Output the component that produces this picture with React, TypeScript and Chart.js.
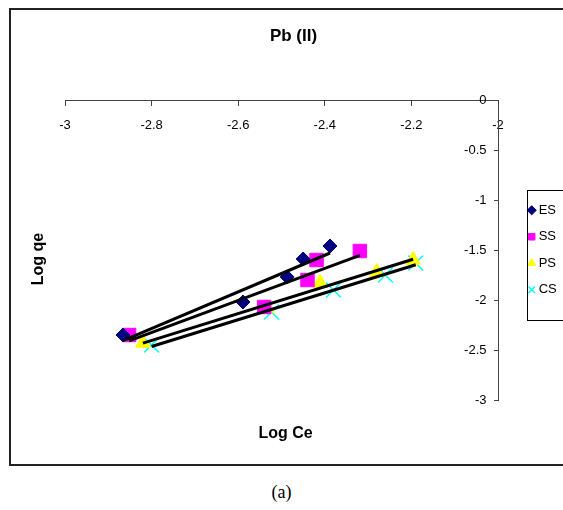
import React, { useEffect, useRef } from "react";
import { Chart, registerables } from "chart.js";

Chart.register(...registerables);

const FONT = '"Liberation Sans", Arial, Helvetica, sans-serif';

const chartTitle = "Pb (II)";
const xAxisTitle = "Log Ce";
const yAxisTitle = "Log qe";
const caption = "(a)";

const seriesNames = ["ES", "SS", "PS", "CS"];

const esLogCe = [-2.866, -2.589, -2.487, -2.45, -2.388];
const esLogQe = [-2.35, -2.02, -1.77, -1.59, -1.46];
const ssLogCe = [-2.852, -2.54, -2.44, -2.419, -2.319];
const ssLogQe = [-2.35, -2.07, -1.8, -1.6, -1.51];
const psLogCe = [-2.82, -2.534, -2.411, -2.28, -2.196];
const psLogQe = [-2.43, -2.08, -1.83, -1.72, -1.6];
const csLogCe = [-2.8, -2.523, -2.38, -2.26, -2.19];
const csLogQe = [-2.45, -2.12, -1.9, -1.75, -1.63];

const xTickValues = [-3, -2.8, -2.6, -2.4, -2.2, -2];
const yTickValues = [0, -0.5, -1, -1.5, -2, -2.5, -3];

// linear least-squares trendline over the data range (as Excel draws it)
function trendline(xs: number[], ys: number[]) {
  const n = xs.length;
  const mx = xs.reduce((a, b) => a + b, 0) / n;
  const my = ys.reduce((a, b) => a + b, 0) / n;
  let sxy = 0;
  let sxx = 0;
  for (let i = 0; i < n; i++) {
    sxy += (xs[i] - mx) * (ys[i] - my);
    sxx += (xs[i] - mx) * (xs[i] - mx);
  }
  const b = sxy / sxx;
  const a = my - b * mx;
  const x0 = Math.min(...xs);
  const x1 = Math.max(...xs);
  return [
    { x: x0, y: a + b * x0 },
    { x: x1, y: a + b * x1 },
  ];
}

const decorPlugin = {
  id: "decor",
  afterDraw(chart: any) {
    const { ctx, chartArea: a } = chart;
    ctx.save();
    // axis titles
    ctx.font = `bold 16px ${FONT}`;
    ctx.fillStyle = "#000";
    ctx.textAlign = "center";
    ctx.textBaseline = "middle";
    ctx.fillText(xAxisTitle, (a.left + a.right) / 2 + 4, a.bottom + 34);
    ctx.save();
    ctx.translate(a.left - 26, (a.top + a.bottom) / 2 + 9);
    ctx.rotate(-Math.PI / 2);
    ctx.fillText(yAxisTitle, 0, 0);
    ctx.restore();
    // legend frame
    const hb = chart.legend && chart.legend.legendHitBoxes;
    if (hb && hb.length) {
      const first = hb[0];
      const last = hb[hb.length - 1];
      const left = Math.round(first.left + 0.5 - 4.7) + 0.5;
      const top = Math.round(first.top + 6.5 - 20.7) + 0.5;
      const bottom = Math.round(last.top + 6.5 + 30.7) + 0.5;
      ctx.strokeStyle = "#000";
      ctx.lineWidth = 1;
      ctx.strokeRect(left, top, chart.width + 10 - left, bottom - top);
    }
    ctx.restore();
  },
};

export default function App() {
  const ref = useRef<HTMLCanvasElement>(null);

  useEffect(() => {
    const canvas = ref.current;
    if (!canvas) return;
    const xs = [esLogCe, ssLogCe, psLogCe, csLogCe];
    const ys = [esLogQe, ssLogQe, psLogQe, csLogQe];
    const colors = ["#000080", "#FF00FF", "#FFFF00", "#00FFFF"];
    const markers = ["rectRot", "rect", "triangle", "crossRot"];
    const radii = [7, 9.5, 8.5, 10.5];

    const pointSets = seriesNames.map((name, i) => ({
      label: name,
      data: xs[i].map((x, j) => ({ x, y: ys[i][j] })),
      pointStyle: markers[i],
      pointRadius: radii[i],
      pointHoverRadius: radii[i],
      backgroundColor: colors[i],
      borderColor: colors[i],
      pointBackgroundColor: colors[i],
      pointBorderColor: colors[i],
      pointBorderWidth: i === 3 ? 1.5 : 1,
      borderWidth: i === 3 ? 1.5 : 1,
      showLine: false,
      order: 1,
    }));
    const trendSets = seriesNames.map((name, i) => ({
      label: name + " trend",
      data: trendline(xs[i], ys[i]),
      showLine: true,
      borderColor: "#000",
      backgroundColor: "#000",
      borderWidth: 3,
      pointRadius: 0,
      pointHoverRadius: 0,
      order: 0,
    }));

    const tickFont = { family: FONT, size: 13 };
    const axisColor = "#444";

    const chart = new Chart(canvas, {
      type: "scatter",
      data: { datasets: [...pointSets, ...trendSets] as any },
      plugins: [decorPlugin],
      options: {
        responsive: false,
        animation: false,
        devicePixelRatio: 1,
        events: [],
        layout: { padding: { left: 10.24, right: 10.24, top: 0, bottom: 65 } },
        plugins: {
          tooltip: { enabled: false },
          title: {
            display: true,
            text: chartTitle,
            color: "#000",
            font: { family: FONT, size: 17, weight: "bold" },
            padding: { top: 16.2, bottom: 53.4 },
          },
          legend: {
            display: true,
            position: "right",
            fullSize: false,
            labels: {
              filter: (item: any) => item.datasetIndex < seriesNames.length,
              usePointStyle: true,
              boxWidth: 1,
              boxHeight: 6.5,
              padding: 13.5,
              color: "#000",
              font: { family: FONT, size: 13 },
            },
          },
        },
        scales: {
          x: {
            type: "linear",
            position: { y: 0 } as any,
            min: -3,
            max: -2,
            afterBuildTicks: (s: any) => {
              s.ticks = xTickValues.map((v) => ({ value: v }));
            },
            afterFit: (s: any) => {
              s.height = 0;
            },
            grid: { drawOnChartArea: false, drawTicks: true, tickLength: 5, color: axisColor },
            border: { display: true, color: axisColor, width: 1 },
            ticks: {
              padding: 13,
              color: "#000",
              font: tickFont,
              maxRotation: 0,
              autoSkip: false,
              callback: (v: any) => String(v),
            },
          },
          y: {
            type: "linear",
            position: "right",
            min: -3,
            max: 0,
            afterBuildTicks: (s: any) => {
              s.ticks = yTickValues.map((v) => ({ value: v }));
            },
            afterFit: (s: any) => {
              s.width = 19.7;
            },
            grid: { drawOnChartArea: false, drawTicks: true, tickLength: -4, color: axisColor },
            border: { display: true, color: axisColor, width: 1 },
            ticks: {
              mirror: true,
              padding: -11.5,
              color: "#000",
              font: tickFont,
              autoSkip: false,
              callback: (v: any) => String(v),
            },
          },
          yl: {
            type: "linear",
            axis: "y",
            position: "left",
            display: true,
            grid: { display: false },
            border: { display: false },
            ticks: { display: false },
            afterFit: (s: any) => {
              s.width = 44.76;
            },
          },
        } as any,
      },
    });
    return () => chart.destroy();
  }, []);

  return (
    <div
      style={{
        position: "fixed",
        left: 0,
        top: 0,
        width: 563,
        height: 510,
        overflow: "hidden",
        background: "#fff",
      }}
    >
      <div
        style={{
          position: "absolute",
          left: 9,
          top: 8,
          width: 580,
          height: 458,
          border: "2px solid #222",
          boxSizing: "border-box",
        }}
      />
      <canvas
        ref={ref}
        width={567}
        height={455}
        style={{ position: "absolute", left: 10, top: 10, width: 567, height: 455 }}
      />
      <div
        style={{
          position: "absolute",
          left: 0,
          top: 480,
          width: 563,
          height: 24,
          lineHeight: "24px",
          textAlign: "center",
          fontFamily: '"Liberation Serif", "Times New Roman", serif',
          fontSize: 18,
          color: "#000",
        }}
      >
        {caption}
      </div>
    </div>
  );
}
